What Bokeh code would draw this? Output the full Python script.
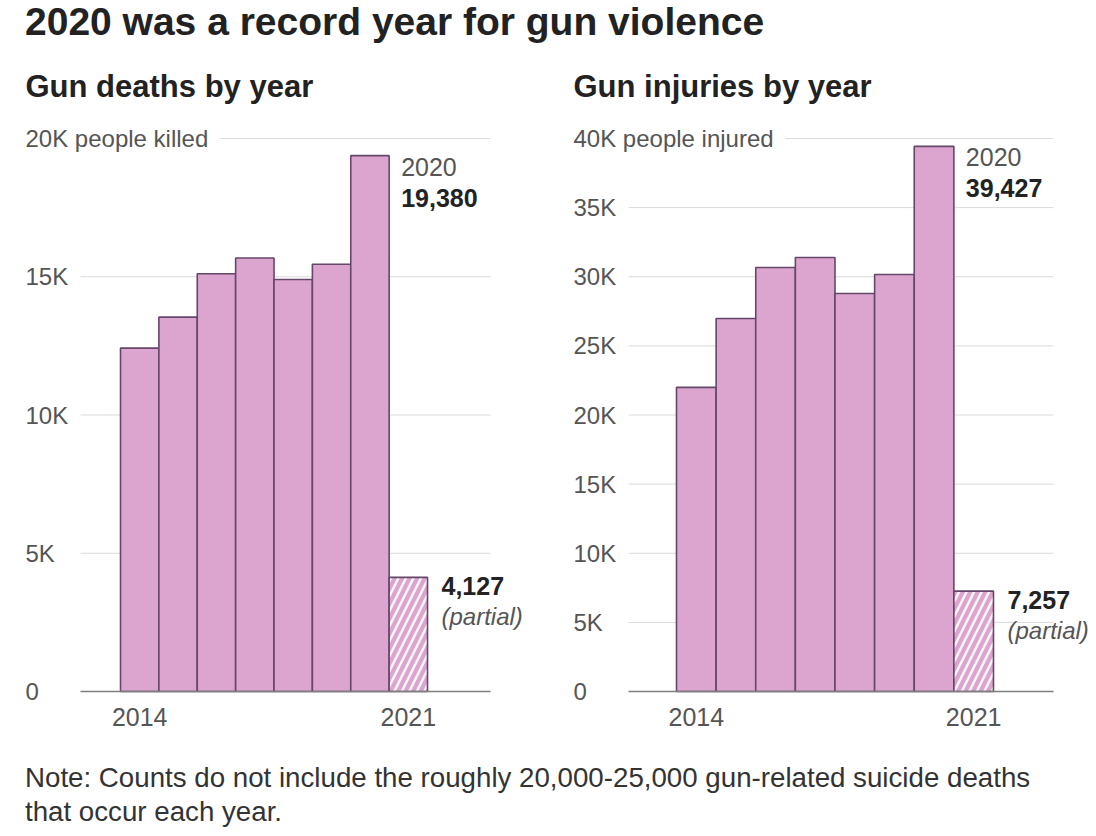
from bokeh.plotting import figure
from bokeh.models import Label, FixedTicker, Div, ColumnDataSource, Range1d
from bokeh.layouts import column, row
from bokeh.embed import file_html
from bokeh.resources import INLINE

# ---------------- data ----------------
years = [2014, 2015, 2016, 2017, 2018, 2019, 2020, 2021]
deaths = [12420, 13540, 15110, 15680, 14900, 15450, 19380, 4127]
injuries = [22000, 26980, 30670, 31390, 28790, 30160, 39427, 7257]
partial_year = 2021
peak_year = 2020

death_ticks = [0, 5000, 10000, 15000, 20000]
death_tick_labels = ["0", "5K", "10K", "15K", "20K people killed"]
injury_ticks = [0, 5000, 10000, 15000, 20000, 25000, 30000, 35000, 40000]
injury_tick_labels = ["0", "5K", "10K", "15K", "20K", "25K", "30K", "35K", "40K people injured"]
x_tick_years = [2014, 2021]

title_text = "2020 was a record year for gun violence"
death_subtitle = "Gun deaths by year"
injury_subtitle = "Gun injuries by year"
note_lines = ["Note: Counts do not include the roughly 20,000-25,000 gun-related suicide deaths",
              "that occur each year."]
partial_text = "(partial)"

# ---------------- style / layout ----------------
FONT = "Liberation Sans"
BAR_FILL = "#dca5d0"
BAR_LINE = "#654769"
GRID = "#dadada"
BASE = "#7f7f7f"
DARK = "#222222"
MID = "#555555"

FIG_H = 693          # canvas height
BASE_Y = 631         # canvas y of the zero line
TOP_TICK_Y = 78      # canvas y of the top tick line
PAD = 12             # white padding around the y labels


def make_panel(values, ticks, tick_labels, subtitle, width, bar_px, first_center,
               grid_left, grid_right, text_x):
    px_per_unit = (BASE_Y - TOP_TICK_Y) / ticks[-1]
    y_start = -(FIG_H - BASE_Y) / px_per_unit
    y_end = BASE_Y / px_per_unit
    x_start = years[0] - first_center / bar_px
    x_end = x_start + width / bar_px

    def cx(px):
        return x_start + px / bar_px

    p = figure(width=width, height=FIG_H,
               x_range=Range1d(x_start, x_end), y_range=Range1d(y_start, y_end),
               output_backend="svg", toolbar_location=None, y_axis_location=None,
               min_border_left=0, min_border_right=0,
               min_border_top=0, min_border_bottom=0)
    p.outline_line_color = None
    p.background_fill_color = "white"
    p.border_fill_color = "white"
    p.xgrid.visible = False
    p.ygrid.visible = False

    # horizontal grid lines
    gsrc = ColumnDataSource(dict(y=[t for t in ticks if t != 0]))
    p.segment(x0=cx(grid_left), x1=cx(grid_right), y0="y", y1="y", source=gsrc,
              line_color=GRID, line_width=1)

    xa = p.xaxis[0]
    xa.fixed_location = 0
    xa.ticker = FixedTicker(ticks=x_tick_years)
    xa.bounds = (cx(grid_left), cx(grid_right))
    xa.axis_line_color = BASE
    xa.axis_line_width = 1.5
    xa.major_tick_line_color = None
    xa.minor_tick_line_color = None
    xa.major_tick_out = 0
    xa.major_tick_in = 0
    xa.major_label_standoff = 16
    xa.major_label_text_font = FONT
    xa.major_label_text_font_size = "25px"
    xa.major_label_text_color = MID

    pi = years.index(partial_year)
    full_years = [y for y in years if y != partial_year]
    full_vals = [v for y, v in zip(years, values) if y != partial_year]
    src_full = ColumnDataSource(dict(x=full_years, top=full_vals))
    src_part = ColumnDataSource(dict(x=[years[pi]], top=[values[pi]]))
    p.vbar(x="x", top="top", width=1, source=src_full,
           fill_color=BAR_FILL, line_color=BAR_LINE, line_width=1.6)
    p.vbar(x="x", top="top", width=1, source=src_part,
           fill_color=BAR_FILL, line_color=BAR_LINE, line_width=1.6,
           hatch_pattern="/", hatch_color="white", hatch_scale=15, hatch_weight=2.5,
           hatch_alpha=0.9)

    # y tick labels (white box hides the grid line behind the text)
    for t, lab in zip(ticks, tick_labels):
        p.add_layout(Label(x=text_x - PAD, x_units="canvas", y=t, y_units="data", text=lab,
                           text_baseline="middle", text_align="left",
                           text_font=FONT, text_font_size="24px", text_color=MID,
                           background_fill_color="white", padding=PAD))

    # subtitle
    p.add_layout(Label(x=text_x, x_units="canvas", y=26, y_units="canvas", text=subtitle,
                       text_baseline="middle", text_align="left", text_font=FONT,
                       text_font_size="31px", text_font_style="bold", text_color=DARK))

    # annotations
    k = years.index(peak_year)
    p.add_layout(Label(x=years[k] + 0.5, y=values[k], x_offset=12, y_offset=-11,
                       text=str(years[k]), text_baseline="middle", text_font=FONT,
                       text_font_size="25px", text_color=MID))
    p.add_layout(Label(x=years[k] + 0.5, y=values[k], x_offset=12, y_offset=-42,
                       text=f"{values[k]:,}", text_baseline="middle", text_font=FONT,
                       text_font_size="25px", text_font_style="bold", text_color=DARK))
    p.add_layout(Label(x=years[pi] + 0.5, y=values[pi], x_offset=14, y_offset=-9,
                       text=f"{values[pi]:,}", text_baseline="middle", text_font=FONT,
                       text_font_size="25px", text_font_style="bold", text_color=DARK))
    p.add_layout(Label(x=years[pi] + 0.5, y=values[pi], x_offset=14, y_offset=-39,
                       text=partial_text, text_baseline="middle", text_font=FONT,
                       text_font_size="24px", text_font_style="italic", text_color=MID))
    return p


p1 = make_panel(deaths, death_ticks, death_tick_labels, death_subtitle,
                width=560, bar_px=38.375, first_center=139.2,
                grid_left=80, grid_right=490, text_x=25)
p2 = make_panel(injuries, injury_ticks, injury_tick_labels, injury_subtitle,
                width=536, bar_px=39.625, first_center=135.8,
                grid_left=68, grid_right=493, text_x=13)

title_div = Div(text=title_text, width=1071, height=60, margin=(0, 0, 0, 25),
                styles={"font-family": FONT, "font-size": "39px", "font-weight": "bold",
                        "color": DARK, "line-height": "44px"})
note_div = Div(text="<br>".join(note_lines), width=1071, height=72, margin=(8, 0, 0, 25),
               styles={"font-family": FONT, "font-size": "27.7px", "color": "#333333",
                       "line-height": "34px"})

layout = column(title_div, row(p1, p2), note_div)
open("out.html", "w").write(file_html(layout, INLINE))
